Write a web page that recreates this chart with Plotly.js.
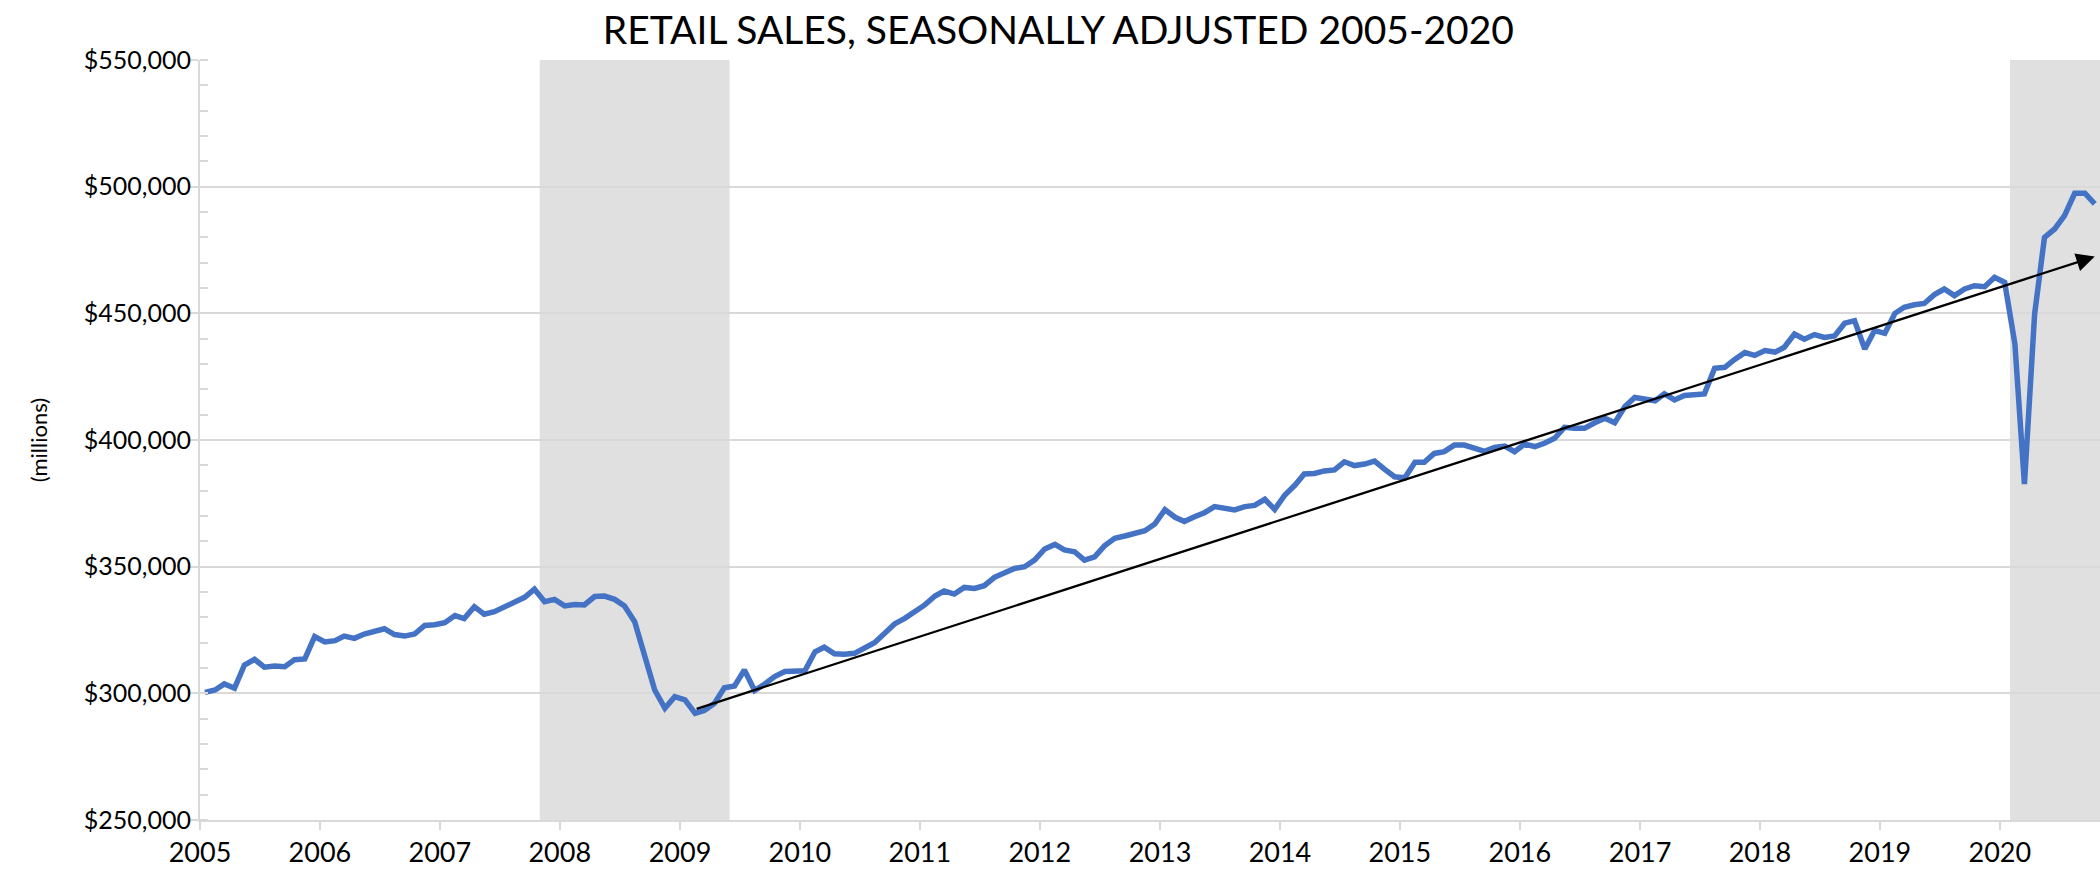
<!DOCTYPE html>
<html>
<head>
<meta charset="utf-8">
<script src="https://cdn.plot.ly/plotly-3.0.1.min.js"></script>
<style>
  html, body { margin: 0; padding: 0; background: #fff; }
  #chart { width: 2100px; height: 877px; }
</style>
</head>
<body>
<div id="chart"></div>
<script>
// Monthly retail sales, seasonally adjusted ($ millions)
const sales2005 = [300400, 301300, 303700, 302000, 311100, 313400, 310300, 310800, 310500, 313300, 313600, 322400];
const sales2006 = [320300, 320800, 322600, 321700, 323400, 324500, 325500, 323200, 322600, 323400, 326800, 327100];
const sales2007 = [327900, 330700, 329500, 334200, 331200, 332200, 334000, 335500, 337900, 341100, 336200, 337100];
const sales2008 = [334500, 335100, 334900, 338200, 338400, 337100, 334500, 328300, 314500, 301300, 294100, 298700];
const sales2009 = [297400, 292100, 293200, 296100, 302200, 302900, 309200, 301100, 303700, 306600, 308600, 308600];
const sales2010 = [308900, 316400, 318200, 315600, 315400, 315800, 317800, 320000, 323700, 327400, 329600, 332200];
const sales2011 = [334900, 338400, 340400, 339200, 341800, 341400, 342500, 345800, 347600, 349300, 350000, 352600];
const sales2012 = [357000, 358800, 356600, 355900, 352600, 353900, 358200, 361200, 362100, 362900, 364200, 366800];
const sales2013 = [372500, 369500, 367800, 369700, 371300, 373700, 372800, 372400, 373700, 374200, 376600, 372600];
const sales2014 = [378300, 382200, 386600, 386800, 387800, 388200, 391400, 389900, 390500, 391700, 388400, 385500];
const sales2015 = [385100, 391200, 391200, 394700, 395400, 398000, 398000, 396700, 395500, 397100, 397600, 395400];
const sales2016 = [398400, 397400, 398700, 400700, 405000, 404600, 404600, 406800, 408600, 406800, 413200, 416800];
const sales2017 = [416400, 415500, 418200, 415800, 417600, 417900, 418200, 428300, 428700, 431800, 434500, 433400];
const sales2018 = [435300, 434700, 436600, 441800, 439800, 441600, 440500, 441100, 446100, 447100, 435900, 443200];
const sales2019 = [442100, 450000, 452400, 453400, 453900, 457400, 459600, 457000, 459600, 460900, 460500, 464200];
const sales2020 = [462200, 437900, 382600, 449700, 480000, 483300, 488600, 497400, 497400, 493200];

const seriesStart = {year: 2005, month: 1};

// Trend arrow endpoints
const trendDates = ['2009-02-16', '2020-10-16'];
const trendValues = [293700, 472400];

// Shaded recession periods
const recessionStarts = ['2007-11-01', '2020-02-01'];
const recessionEnds = ['2009-06-01', '2020-11-01'];

const axisRange = ['2005-01-01', '2020-11-01'];
const yRange = [250000, 550000];

const titleText = 'RETAIL SALES, SEASONALLY ADJUSTED 2005-2020';
const yTitleText = '(millions)';

const sales = [].concat(sales2005, sales2006, sales2007, sales2008, sales2009, sales2010,
  sales2011, sales2012, sales2013, sales2014, sales2015, sales2016, sales2017, sales2018,
  sales2019, sales2020);

const dates = sales.map((_, i) => {
  const m0 = seriesStart.month - 1 + i;
  const y = seriesStart.year + Math.floor(m0 / 12);
  const m = (m0 % 12) + 1;
  return y + '-' + String(m).padStart(2, '0') + '-16';
});

const FONT = 'Lato, "Open Sans", sans-serif';
const GRID = '#D9D9D9';

const traces = [{
  type: 'scatter',
  mode: 'lines',
  x: dates,
  y: sales,
  line: {color: '#4472C4', width: 5.5},
  hoverinfo: 'skip',
  showlegend: false
}];

const shapes = recessionStarts.map((s, i) => ({
  type: 'rect',
  xref: 'x', yref: 'paper',
  x0: s, x1: recessionEnds[i], y0: 0, y1: 1,
  fillcolor: '#E0E0E0',
  line: {width: 0},
  layer: 'below'
}));

const annotations = [{
  xref: 'x', yref: 'y', axref: 'x', ayref: 'y',
  x: trendDates[1], y: trendValues[1],
  ax: trendDates[0], ay: trendValues[0],
  text: '',
  showarrow: true,
  arrowhead: 2,
  arrowsize: 1.6,
  arrowwidth: 2.3,
  arrowcolor: '#000000'
}];

const layout = {
  width: 2100,
  height: 877,
  margin: {l: 200, r: 0, t: 60, b: 57},
  paper_bgcolor: '#ffffff',
  plot_bgcolor: 'rgba(0,0,0,0)',
  font: {family: FONT, color: '#000000'},
  title: {
    text: titleText,
    font: {family: FONT, size: 39, color: '#000000'},
    x: 0.504, xanchor: 'center',
    y: 0.965, yanchor: 'middle'
  },
  showlegend: false,
  xaxis: {
    type: 'date',
    range: axisRange,
    tick0: '2005-01-01',
    dtick: 'M12',
    tickformat: '%Y',
    ticks: 'outside',
    ticklen: 8,
    tickwidth: 2,
    tickcolor: GRID,
    showline: true,
    linecolor: GRID,
    linewidth: 2,
    showgrid: false,
    zeroline: false,
    tickfont: {family: FONT, size: 27, color: '#000000'},
    fixedrange: true
  },
  yaxis: {
    range: yRange,
    dtick: 50000,
    tick0: 250000,
    tickprefix: '$',
    tickformat: ',.0f',
    ticks: 'outside',
    ticklen: 8,
    tickwidth: 2,
    tickcolor: GRID,
    showline: true,
    linecolor: GRID,
    linewidth: 2,
    showgrid: true,
    gridcolor: GRID,
    gridwidth: 2,
    zeroline: false,
    minor: {dtick: 10000, ticks: 'inside', ticklen: 8, tickwidth: 2, tickcolor: GRID, showgrid: false},
    tickfont: {family: FONT, size: 25, color: '#000000'},
    ticklabelstandoff: -6,
    title: {text: yTitleText, font: {family: FONT, size: 22, color: '#000000'}, standoff: 30},
    automargin: false,
    fixedrange: true
  },
  shapes: shapes,
  annotations: annotations
};

Plotly.newPlot('chart', traces, layout, {staticPlot: true, displayModeBar: false});
</script>
</body>
</html>
